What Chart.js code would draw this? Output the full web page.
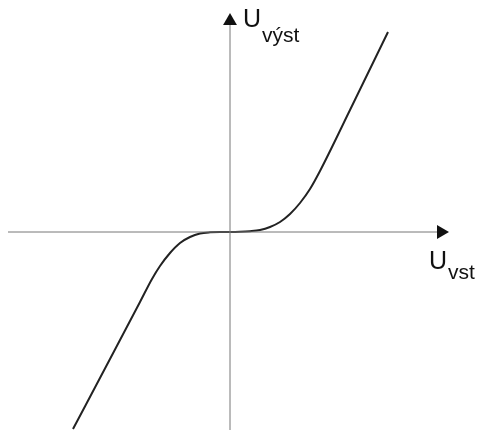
<!DOCTYPE html>
<html>
<head>
<meta charset="utf-8">
<script src="https://cdn.jsdelivr.net/npm/chart.js@4.4.1/dist/chart.umd.min.js"></script>
<style>
  html, body { margin: 0; padding: 0; background: #fff; }
  #wrap { position: relative; width: 477px; height: 430px; }
</style>
</head>
<body>
<div id="wrap"><canvas id="chart"></canvas></div>
<script>
// input voltage (U_vst) and output voltage (U_výst), arbitrary units
const uIn  = [-157, -120, -90, -78, -70, -60, -50, -40, -30, -20, -10, 0, 10, 20, 30, 40, 50, 60, 70, 80, 90, 120, 158];
const uOut = [-197, -127, -70, -47, -34, -21, -11, -5, -1.5, -0.3, 0, 0, 0.2, 0.8, 2, 5, 10, 18, 29, 43, 61, 122, 200];

// axis extents
const xAxisFrom = -222, xAxisTo = 219;
const yAxisFrom = -198, yAxisTo = 219;
const arrowBack = 8;

const xLabel = { main: "U", sub: "vst", x: 199, y: -37, subDrop: 10 };
const yLabel = { main: "U", sub: "výst", x: 13, y: 205, subDrop: 15 };

const curve = uIn.map((x, i) => ({ x: x, y: uOut[i] }));

const axisLabels = {
  id: "axisLabels",
  afterDatasetsDraw(chart) {
    const { ctx, scales } = chart;
    ctx.save();
    ctx.fillStyle = "#111";
    ctx.textBaseline = "alphabetic";
    [xLabel, yLabel].forEach((l) => {
      const px = scales.x.getPixelForValue(l.x);
      const py = scales.y.getPixelForValue(l.y);
      ctx.font = "25px 'Liberation Sans', Arial, sans-serif";
      ctx.fillText(l.main, px, py);
      const w = ctx.measureText(l.main).width;
      ctx.font = "21px 'Liberation Sans', Arial, sans-serif";
      ctx.fillText(l.sub, px + w + 1, py + l.subDrop);
    });
    ctx.restore();
  },
};

new Chart(document.getElementById("chart"), {
  type: "scatter",
  data: {
    datasets: [
      {
        data: [{ x: xAxisFrom, y: 0 }, { x: xAxisTo - arrowBack, y: 0 }],
        showLine: true,
        borderColor: "#777",
        borderWidth: 1,
        pointRadius: [0, 8],
        pointStyle: "triangle",
        rotation: 90,
        pointBackgroundColor: "#111",
        pointBorderWidth: 0,
      },
      {
        data: [{ x: 0, y: yAxisFrom }, { x: 0, y: yAxisTo - arrowBack }],
        showLine: true,
        borderColor: "#777",
        borderWidth: 1,
        pointRadius: [0, 8],
        pointStyle: "triangle",
        rotation: 0,
        pointBackgroundColor: "#111",
        pointBorderWidth: 0,
      },
      {
        data: curve,
        showLine: true,
        borderColor: "#222",
        borderWidth: 2,
        pointRadius: 0,
        cubicInterpolationMode: "monotone",
      },
    ],
  },
  options: {
    responsive: true,
    maintainAspectRatio: false,
    animation: false,
    layout: { padding: 0, autoPadding: false },
    plugins: { legend: { display: false }, tooltip: { enabled: false } },
    scales: {
      x: { type: "linear", min: -230, max: 247, display: false },
      y: { type: "linear", min: -198, max: 232, display: false },
    },
  },
  plugins: [axisLabels],
});
</script>
</body>
</html>
